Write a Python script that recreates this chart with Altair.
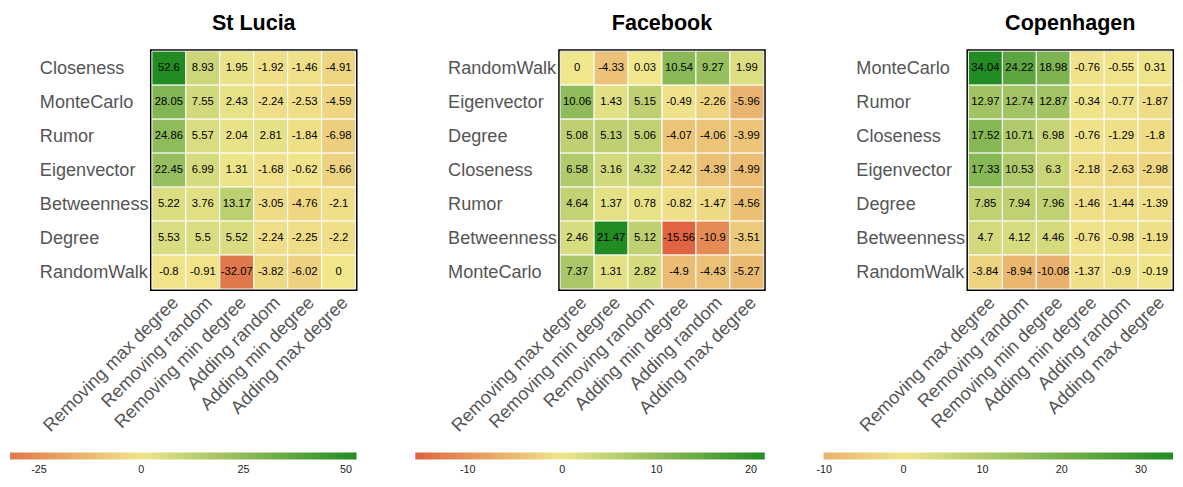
import altair as alt
import pandas as pd

# ---------------- data ----------------
stlucia_actions = ["Removing max degree", "Removing random", "Removing min degree",
                   "Adding random", "Adding min degree", "Adding max degree"]
stlucia_methods = ["Closeness", "MonteCarlo", "Rumor", "Eigenvector", "Betweenness", "Degree", "RandomWalk"]
stlucia_values = [
    [52.6, 8.93, 1.95, -1.92, -1.46, -4.91],
    [28.05, 7.55, 2.43, -2.24, -2.53, -4.59],
    [24.86, 5.57, 2.04, 2.81, -1.84, -6.98],
    [22.45, 6.99, 1.31, -1.68, -0.62, -5.66],
    [5.22, 3.76, 13.17, -3.05, -4.76, -2.1],
    [5.53, 5.5, 5.52, -2.24, -2.25, -2.2],
    [-0.8, -0.91, -32.07, -3.82, -6.02, 0],
]
stlucia_ticks = [-25, 0, 25, 50]

facebook_actions = ["Removing max degree", "Removing min degree", "Removing random",
                    "Adding min degree", "Adding random", "Adding max degree"]
facebook_methods = ["RandomWalk", "Eigenvector", "Degree", "Closeness", "Rumor", "Betweenness", "MonteCarlo"]
facebook_values = [
    [0, -4.33, 0.03, 10.54, 9.27, 1.99],
    [10.06, 1.43, 5.15, -0.49, -2.26, -5.96],
    [5.08, 5.13, 5.06, -4.07, -4.06, -3.99],
    [6.58, 3.16, 4.32, -2.42, -4.39, -4.99],
    [4.64, 1.37, 0.78, -0.82, -1.47, -4.56],
    [2.46, 21.47, 5.12, -15.56, -10.9, -3.51],
    [7.37, 1.31, 2.82, -4.9, -4.43, -5.27],
]
facebook_ticks = [-10, 0, 10, 20]

copenhagen_actions = ["Removing max degree", "Removing random", "Removing min degree",
                      "Adding min degree", "Adding random", "Adding max degree"]
copenhagen_methods = ["MonteCarlo", "Rumor", "Closeness", "Eigenvector", "Degree", "Betweenness", "RandomWalk"]
copenhagen_values = [
    [34.04, 24.22, 18.98, -0.76, -0.55, 0.31],
    [12.97, 12.74, 12.87, -0.34, -0.77, -1.87],
    [17.52, 10.71, 6.98, -0.76, -1.29, -1.8],
    [17.33, 10.53, 6.3, -2.18, -2.63, -2.98],
    [7.85, 7.94, 7.96, -1.46, -1.44, -1.39],
    [4.7, 4.12, 4.46, -0.76, -0.98, -1.19],
    [-3.84, -8.94, -10.08, -1.37, -0.9, -0.19],
]
copenhagen_ticks = [-10, 0, 10, 20, 30]

# ---------------- style ----------------
FONT = "Liberation Sans"
W = 208
H = 243
RED = (216, 50, 34)
MID = (240, 230, 140)
GREEN = (34, 139, 34)


def hexcol(c):
    return "#%02x%02x%02x" % tuple(int(round(v)) for v in c)


def panel(name, actions, methods, values, ticks, legend_left):
    rows = []
    for m, vals in zip(methods, values):
        for a, v in zip(actions, vals):
            rows.append({"method": m, "action": a, "value": v, "label": f"{v:g}"})
    df = pd.DataFrame(rows)
    flat = [v for r in values for v in r]
    mn, mx = min(flat), max(flat)
    frac = min(1.0, abs(mn) / mx)
    low = tuple(MID[i] + frac * (RED[i] - MID[i]) for i in range(3))

    base = alt.Chart(df).encode(
        x=alt.X("action:N", sort=actions, title=None,
                axis=alt.Axis(labelAngle=-45, labelAlign="right", labelBaseline="top",
                              labelFontSize=18.5, labelColor="#555555", labelFont=FONT,
                              ticks=False, domain=False, labelPadding=4, labelLimit=300)),
        y=alt.Y("method:N", sort=methods, title=None,
                axis=alt.Axis(labelAlign="left", labelPadding=115, labelFontSize=18.5,
                              labelColor="#555555", labelFont=FONT, ticks=False,
                              domain=False, labelLimit=300)),
    )
    rect = base.mark_rect(stroke="white", strokeWidth=1).encode(
        color=alt.Color("value:Q",
                        scale=alt.Scale(domain=[mn, 0, mx],
                                        range=[hexcol(low), hexcol(MID), hexcol(GREEN)],
                                        interpolate="rgb"),
                        legend=alt.Legend(title=None, orient="none", direction="horizontal",
                                          legendX=-legend_left, legendY=410,
                                          gradientLength=legend_left + W + 1,
                                          gradientThickness=7, gradientStrokeWidth=0,
                                          values=ticks, labelFontSize=11, labelColor="#222222",
                                          labelExpr="'' + datum.value",
                                          labelFont=FONT, labelOffset=5, padding=0))
    )
    text = base.mark_text(fontSize=11.5, font=FONT, color="black").encode(text="label:N")
    return alt.layer(rect, text).properties(
        width=W, height=H,
        title=alt.Title(name, fontSize=22, fontWeight="bold", font=FONT, color="black",
                        anchor="middle", frame="group", offset=16),
    )


p1 = panel("St Lucia", stlucia_actions, stlucia_methods, stlucia_values, stlucia_ticks, 145)
p2 = panel("Facebook", facebook_actions, facebook_methods, facebook_values, facebook_ticks, 148)
p3 = panel("Copenhagen", copenhagen_actions, copenhagen_methods, copenhagen_values, copenhagen_ticks, 148)

chart = alt.hconcat(p1, p2, p3, spacing=56).resolve_scale(
    x="independent", y="independent", color="independent"
).resolve_legend(color="independent").properties(
    padding={"left": 0, "top": -3, "right": 0, "bottom": 0}
).configure_view(stroke="black", strokeWidth=4)

chart.save("out.html", embed_options={"renderer": "svg", "actions": False})
